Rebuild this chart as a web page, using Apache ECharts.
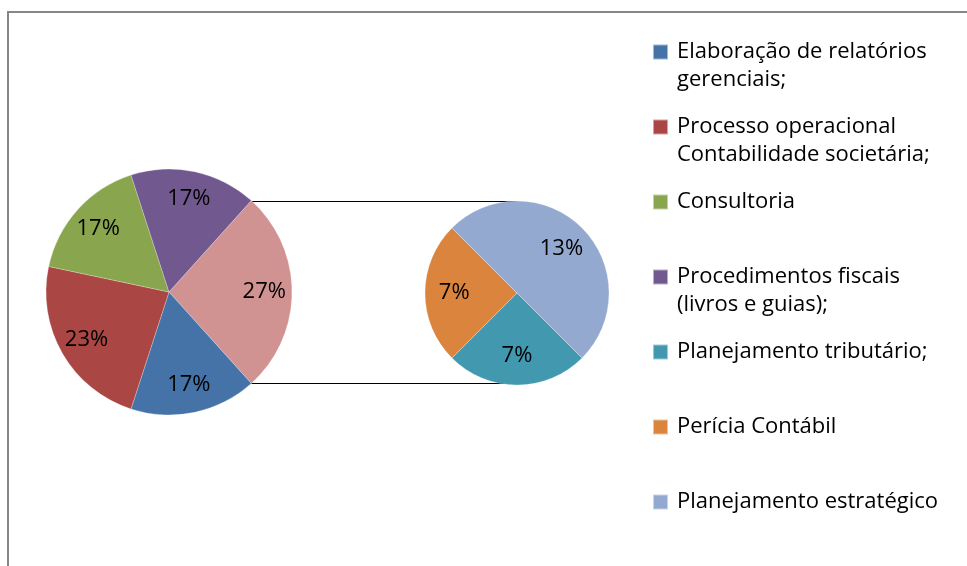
<!DOCTYPE html>
<html>
<head>
<meta charset="utf-8">
<script src="https://cdn.jsdelivr.net/npm/echarts@6/dist/echarts.min.js"></script>
<style>
    html, body { margin: 0; padding: 0; background: #fff; }
    #main { width: 967px; height: 566px; }
</style>
</head>
<body>
<div id="main"></div>
<script>
// pie of pie: the last three answers are grouped into one slice and split out on the right
const mainNames = ['Elaboração de relatórios\ngerenciais;', 'Processo operacional\nContabilidade societária;', 'Consultoria', 'Procedimentos fiscais\n(livros e guias);'];
const mainValues = [5, 7, 5, 5];
const otherLabel = 'Outros';
const otherNames = ['Planejamento tributário;', 'Perícia Contábil', 'Planejamento estratégico'];
const otherValues = [2, 2, 4];

const mainColors = ['#4572A7', '#AA4643', '#89A54E', '#71588F'];
const otherColor = '#D19392';
const subColors = ['#4198AF', '#DB843D', '#93A9CF'];

let otherTotal = otherValues.reduce((a, b) => a + b, 0);
let total = mainValues.reduce((a, b) => a + b, 0) + otherTotal;
// grouped slice is centred on 3 o'clock
let half = otherTotal / total * 180;

let mainCenter = [169, 292], mainR = 123;
let subCenter = [517, 293], subR = 92;

let mainData = [{ name: otherLabel, value: otherTotal, itemStyle: { color: otherColor } }]
    .concat(mainValues.map((v, i) => ({ name: mainNames[i], value: v, itemStyle: { color: mainColors[i] } })));
let subData = otherValues.map((v, i) => ({ name: otherNames[i], value: v, itemStyle: { color: subColors[i] } }));

let pct = p => Math.round(p.value / total * 100) + '%';
let clear = d => ({ name: d.name, value: d.value, itemStyle: { color: 'rgba(0,0,0,0)' } });

let labelStyle = {
    show: true,
    position: 'inside',
    formatter: pct,
    fontFamily: 'Open Sans',
    fontSize: 22,
    color: '#000'
};

let rad = half * Math.PI / 180;
let x1 = mainCenter[0] + mainR * Math.cos(rad);
let yTop = Math.round(mainCenter[1] - mainR * Math.sin(rad)) + 0.5;
let yBot = Math.round(mainCenter[1] + mainR * Math.sin(rad)) + 0.5;

let chart = echarts.init(document.getElementById('main'));
chart.setOption({
    backgroundColor: '#fff',
    animation: false,
    legend: {
        orient: 'vertical',
        left: 652,
        top: 10,
        padding: 0,
        itemWidth: 15,
        itemHeight: 15,
        itemGap: -9,
        icon: 'rect',
        selectedMode: false,
        data: mainNames.concat(otherNames),
        formatter: name => {
            let lines = name.split('\n');
            return ' \n' + lines[0] + '\n' + (lines[1] || ' ');
        },
        textStyle: {
            fontFamily: 'Open Sans',
            fontSize: 22,
            lineHeight: 28,
            color: '#000',
            padding: [0, 0, 0, 4]
        }
    },
    graphic: [
        {
            type: 'rect',
            silent: true,
            shape: { x: 8, y: 12, width: 1000, height: 600 },
            style: { fill: 'none', stroke: '#868686', lineWidth: 2 }
        },
        {
            type: 'line',
            silent: true,
            shape: { x1: x1, y1: yTop, x2: subCenter[0], y2: yTop },
            style: { stroke: '#000', lineWidth: 1 }
        },
        {
            type: 'line',
            silent: true,
            shape: { x1: x1, y1: yBot, x2: subCenter[0], y2: yBot },
            style: { stroke: '#000', lineWidth: 1 }
        }
    ],
    series: [
        {
            type: 'pie',
            center: mainCenter,
            radius: mainR,
            startAngle: half,
            silent: true,
            label: { show: false },
            labelLine: { show: false },
            itemStyle: { borderColor: 'rgba(255,255,255,0.5)', borderWidth: 0.5 },
            data: mainData
        },
        {
            type: 'pie',
            center: subCenter,
            radius: subR,
            startAngle: -45,
            silent: true,
            label: { show: false },
            labelLine: { show: false },
            itemStyle: { borderColor: 'rgba(255,255,255,0.5)', borderWidth: 0.5 },
            data: subData
        },
        // transparent rings only to push the percentage labels outwards
        {
            type: 'pie',
            center: mainCenter,
            radius: [mainR * 0.5, mainR],
            startAngle: half,
            silent: true,
            avoidLabelOverlap: false,
            label: labelStyle,
            labelLine: { show: false },
            data: mainData.map(clear)
        },
        {
            type: 'pie',
            center: subCenter,
            radius: [subR * 0.3, subR],
            startAngle: -45,
            silent: true,
            avoidLabelOverlap: false,
            label: labelStyle,
            labelLine: { show: false },
            data: subData.map(clear)
        }
    ]
});
</script>
</body>
</html>
